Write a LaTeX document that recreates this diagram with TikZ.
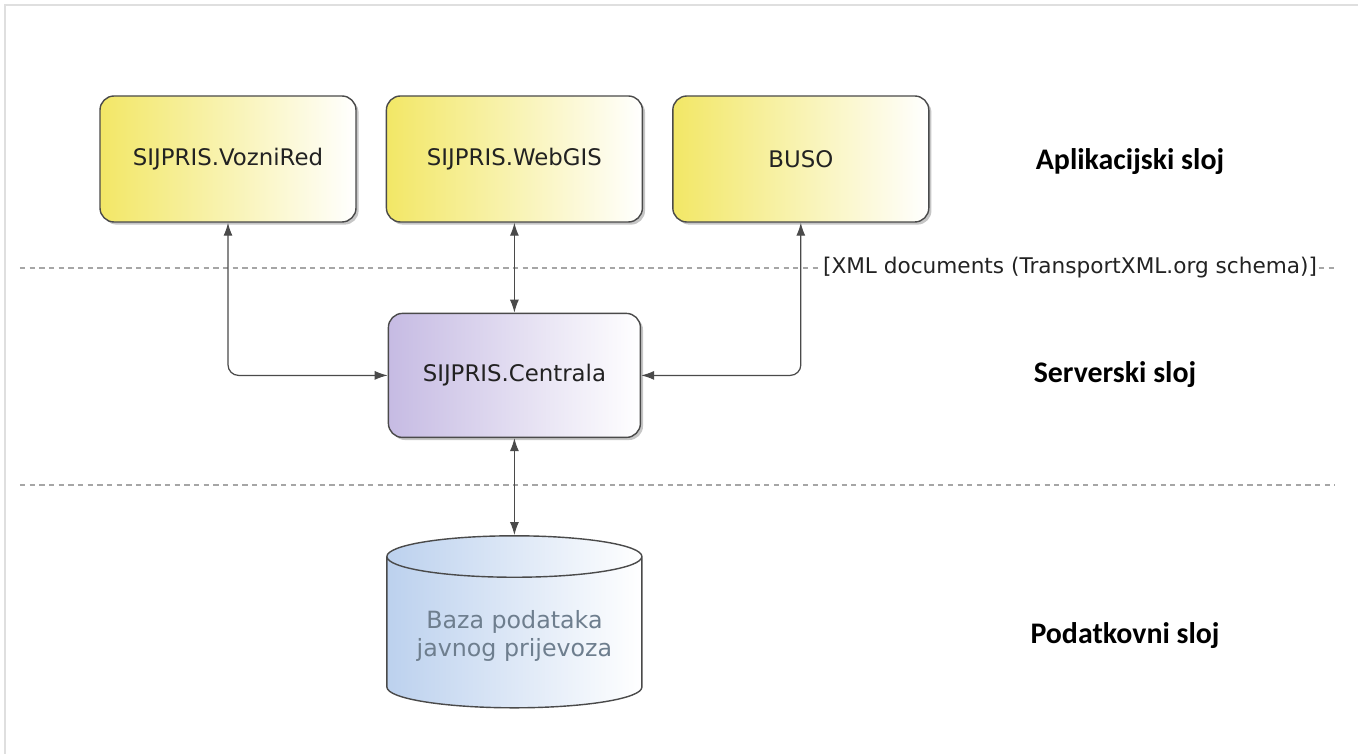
\documentclass[tikz,border=0pt]{standalone}
\usepackage{fontspec}
\setmainfont{DejaVu Sans}
\newfontfamily\layerfont{Carlito}
\usepackage{tikz}
\usetikzlibrary{positioning}
\usetikzlibrary{shapes.geometric}
\usetikzlibrary{shadows}
\usetikzlibrary{arrows.meta}
\definecolor{YELLOW}{HTML}{F2E766}
\definecolor{LAVENDER}{HTML}{C6BBE3}
\definecolor{SKY}{HTML}{BCD1EE}
\definecolor{EDGE}{HTML}{4A4A4A}
\definecolor{INK}{HTML}{222222}
\definecolor{DBINK}{HTML}{6E7E8E}
\tikzset{
	every node/.style = {font=\fontsize{13}{15}\selectfont, text=INK},
	app/.style = {rectangle, rounded corners=8pt, draw=EDGE, line width=0.8pt,
	              minimum width=5.12cm, minimum height=2.52cm,
	              left color=YELLOW, right color=white,
	              drop shadow={shadow xshift=1.5pt, shadow yshift=-1.5pt, opacity=0.45}},
	server/.style = {app, minimum width=5.04cm, minimum height=2.48cm,
	              left color=LAVENDER, right color=white},
	store/.style = {cylinder, shape border rotate=90, aspect=0.2, draw=EDGE, line width=0.8pt,
	              minimum width=5.1cm, minimum height=3.44cm,
	              left color=SKY, right color=white, align=center, text=DBINK,
	              font=\fontsize{13.5}{16}\selectfont},
	layer/.style = {font=\layerfont\bfseries\fontsize{17}{20}\selectfont, text=black},
	link/.style = {draw=EDGE, line width=0.7pt, rounded corners=6pt,
	              {Latex[length=2.6mm,width=1.8mm]}-{Latex[length=2.6mm,width=1.8mm]}},
	divider/.style = {draw=gray!70, line width=0.8pt, dash pattern=on 3pt off 2.5pt}
}
\begin{document}
\begin{tikzpicture}
		\useasboundingbox (0,0) rectangle (27.16,-15.08);
		% frame
		\draw[gray!25, line width=1pt] (0.1,-15.08) -- (0.1,-0.1) -- (27.16,-0.1);
		% application layer
		\node[app] (vozni) at (4.56,-3.18) {SIJPRIS.VozniRed};
		\node[app, right=0.58cm of vozni] (webgis) {SIJPRIS.WebGIS};
		\node[app, right=0.58cm of webgis] (buso) {BUSO};
		% server layer
		\node[server, below=1.8cm of webgis] (centrala) {SIJPRIS.Centrala};
		% data layer
		\node[store, below=1.94cm of centrala] (baza) {Baza podataka\\javnog prijevoza};
		% layer names
		\node[layer] (aplik) at (22.6,-3.24) {Aplikacijski sloj};
		\node[layer] (server) at (22.3,-7.5) {Serverski sloj};
		\node[layer] (podat) at (22.5,-12.72) {Podatkovni sloj};
		% dividers
		\node[font=\fontsize{12.3}{14}\selectfont, inner sep=1pt] (xml) at (21.4,-5.36) {[XML documents (TransportXML.org schema)]};
		\coordinate (d1a) at (0.4,-5.36);
		\coordinate (d1b) at (26.7,-5.36);
		\coordinate (d2a) at (0.4,-9.7);
		\coordinate (d2b) at (26.7,-9.7);
		\draw[divider] (d1a) -- (xml.west) (xml.east) -- (d1b);
		\draw[divider] (d2a) -- (d2b);
		% connectors
		\draw[link] (vozni.south) |- (centrala.west);
		\draw[link] (buso.south) |- (centrala.east);
		\draw[link] (webgis.south) -- (centrala.north);
		\draw[link] (centrala.south) -- (baza.north);
	\end{tikzpicture}
\end{document}
